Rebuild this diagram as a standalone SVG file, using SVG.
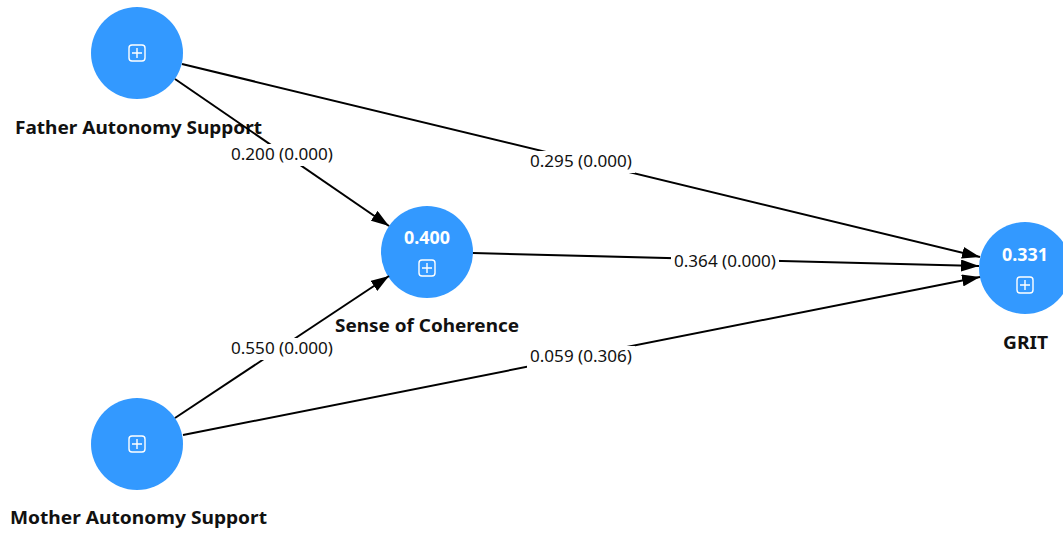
<svg xmlns="http://www.w3.org/2000/svg" width="1063" height="535" viewBox="0 0 1063 535">
  <style>
    .node { fill: #3399ff; }
    .icon { fill: none; stroke: #ffffff; stroke-width: 1.4; }
    .name { font-family: "Noto Sans", "Open Sans", sans-serif; font-size: 18px; font-weight: bold; fill: #111111; text-anchor: middle; }
    .value { font-family: "Noto Sans", "Open Sans", sans-serif; font-size: 17px; font-weight: bold; fill: #ffffff; text-anchor: middle; }
    .edge { stroke: #000000; stroke-width: 2; fill: none; marker-end: url(#arrow); }
    .elabel { font-family: "Noto Sans", "Open Sans", sans-serif; font-size: 16px; fill: #111111; text-anchor: middle; }
    .lbg { fill: #ffffff; }
  </style>
  <defs>
    <marker id="arrow" viewBox="0 0 18 12" refX="18" refY="6" markerWidth="18" markerHeight="12" markerUnits="userSpaceOnUse" orient="auto">
      <path d="M0,0 L18,6 L0,12 Z" fill="#000000"/>
    </marker>
    <!-- expand icon: rounded square with a plus -->
    <g id="expand">
      <rect x="-8" y="-8" width="16" height="16" rx="3" class="icon"/>
      <path d="M0,-5 V5 M-5,0 H5" class="icon"/>
    </g>
  </defs>

  <rect width="1063" height="535" fill="#ffffff"/>

  <g id="father">
    <circle cx="137" cy="53" r="46" class="node"/>
    <use href="#expand" x="137" y="53"/>
    <text x="138.5" y="134" class="name" textLength="247" lengthAdjust="spacingAndGlyphs">Father Autonomy Support</text>
  </g>
  <g id="mother">
    <circle cx="137" cy="444" r="46" class="node"/>
    <use href="#expand" x="137" y="444"/>
    <text x="138.5" y="524" class="name" textLength="257" lengthAdjust="spacingAndGlyphs">Mother Autonomy Support</text>
  </g>
  <g id="coherence">
    <circle cx="427" cy="252" r="46" class="node"/>
    <text x="427" y="244" class="value" textLength="46" lengthAdjust="spacingAndGlyphs">0.400</text>
    <use href="#expand" x="427" y="268"/>
    <text x="427" y="332" class="name" textLength="184" lengthAdjust="spacingAndGlyphs">Sense of Coherence</text>
  </g>
  <g id="grit">
    <circle cx="1025" cy="268" r="46" class="node"/>
    <text x="1025" y="261" class="value" textLength="46" lengthAdjust="spacingAndGlyphs">0.331</text>
    <use href="#expand" x="1025" y="285"/>
    <text x="1025.5" y="349" class="name" textLength="45" lengthAdjust="spacingAndGlyphs">GRIT</text>
  </g>

  <g id="connectors">
    <line x1="175" y1="79" x2="389" y2="226" class="edge"/>
    <line x1="182" y1="64" x2="980" y2="257" class="edge"/>
    <line x1="473" y1="253" x2="979" y2="266" class="edge"/>
    <line x1="175" y1="418" x2="389" y2="276" class="edge"/>
    <line x1="183" y1="435" x2="980" y2="277" class="edge"/>

    <rect x="228" y="144" width="108" height="22" class="lbg"/>
    <text x="282" y="160" class="elabel" textLength="102" lengthAdjust="spacingAndGlyphs">0.200 (0.000)</text>
    <rect x="527" y="151" width="108" height="22" class="lbg"/>
    <text x="581" y="167" class="elabel" textLength="102" lengthAdjust="spacingAndGlyphs">0.295 (0.000)</text>
    <rect x="671" y="251" width="108" height="22" class="lbg"/>
    <text x="725" y="267" class="elabel" textLength="102" lengthAdjust="spacingAndGlyphs">0.364 (0.000)</text>
    <rect x="228" y="338" width="108" height="22" class="lbg"/>
    <text x="282" y="354" class="elabel" textLength="102" lengthAdjust="spacingAndGlyphs">0.550 (0.000)</text>
    <rect x="527" y="346" width="108" height="22" class="lbg"/>
    <text x="581" y="362" class="elabel" textLength="102" lengthAdjust="spacingAndGlyphs">0.059 (0.306)</text>
  </g>
</svg>
